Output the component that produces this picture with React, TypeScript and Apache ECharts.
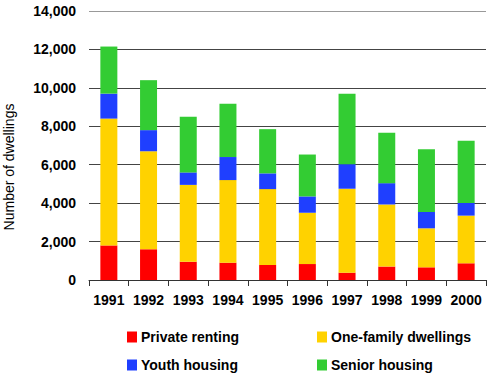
import React, { useEffect, useRef } from "react";
import * as echarts from "echarts";

const years = ["1991", "1992", "1993", "1994", "1995", "1996", "1997", "1998", "1999", "2000"];
const privateRenting = [1800, 1600, 950, 900, 780, 830, 380, 700, 660, 870];
const oneFamily = [6600, 5100, 4000, 4300, 3950, 2670, 4370, 3230, 2030, 2480];
const youthHousing = [1300, 1100, 650, 1200, 820, 850, 1280, 1110, 850, 660];
const seniorHousing = [2450, 2600, 2900, 2770, 2300, 2180, 3660, 2620, 3260, 3240];

const FONT = "'Liberation Sans', Arial, sans-serif";

export default function App() {
  const ref = useRef<HTMLDivElement>(null);
  useEffect(() => {
    if (!ref.current) return;
    const chart = echarts.init(ref.current, null, { renderer: "svg" });
    const mk = (name: string, data: number[], color: string) => ({
      name,
      type: "bar",
      stack: "total",
      data,
      barWidth: 17,
      itemStyle: { color },
    });
    const lg = (name: string, left: number, top: number) => ({
      left,
      top,
      itemWidth: 10,
      itemHeight: 11,
      itemGap: 0,
      icon: "rect",
      padding: 0,
      textStyle: { color: "#000", fontWeight: "bold", fontSize: 14, fontFamily: FONT, padding: [0, 0, 0, -1] },
      data: [name],
    });
    chart.setOption({
      animation: false,
      backgroundColor: "#ffffff",
      grid: { left: 89, right: 4, top: 11, bottom: 96, containLabel: false },
      xAxis: {
        type: "category",
        data: years,
        axisLine: { show: true, lineStyle: { color: "#333", width: 1 } },
        axisTick: { show: true, length: 6, lineStyle: { color: "#333" } },
        axisLabel: {
          interval: 0,
          margin: 13,
          color: "#000",
          fontWeight: "bold",
          fontSize: 14,
          fontFamily: FONT,
        },
      },
      yAxis: {
        type: "value",
        min: 0,
        max: 14000,
        interval: 2000,
        axisLine: { show: false },
        axisTick: { show: false },
        axisLabel: {
          margin: 13,
          color: "#000",
          fontWeight: "bold",
          fontSize: 14,
          fontFamily: FONT,
          formatter: (v: number) => v.toLocaleString("en-US"),
        },
        splitLine: {
          show: true,
          lineStyle: {
            color: ["#444", "#444", "#444", "#444", "#444", "#444", "#444", "#999"],
            width: 1,
          },
        },
      },
      legend: [
        lg("Private renting", 127, 330),
        lg("Youth housing", 127, 358),
        lg("One-family dwellings", 317, 330),
        lg("Senior housing", 317, 358),
      ],
      graphic: [
        {
          type: "text",
          x: 9,
          y: 167,
          rotation: Math.PI / 2,
          style: {
            text: "Number of dwellings",
            fill: "#000",
            font: `14px ${FONT}`,
            textAlign: "center",
            textVerticalAlign: "middle",
          },
        },
      ],
      series: [
        mk("Private renting", privateRenting, "#ff0000"),
        mk("One-family dwellings", oneFamily, "#ffd200"),
        mk("Youth housing", youthHousing, "#1f3fff"),
        mk("Senior housing", seniorHousing, "#33cc33"),
      ],
    });
    return () => chart.dispose();
  }, []);
  return <div ref={ref} style={{ width: 490, height: 376, position: "absolute", left: 0, top: 0 }} />;
}
